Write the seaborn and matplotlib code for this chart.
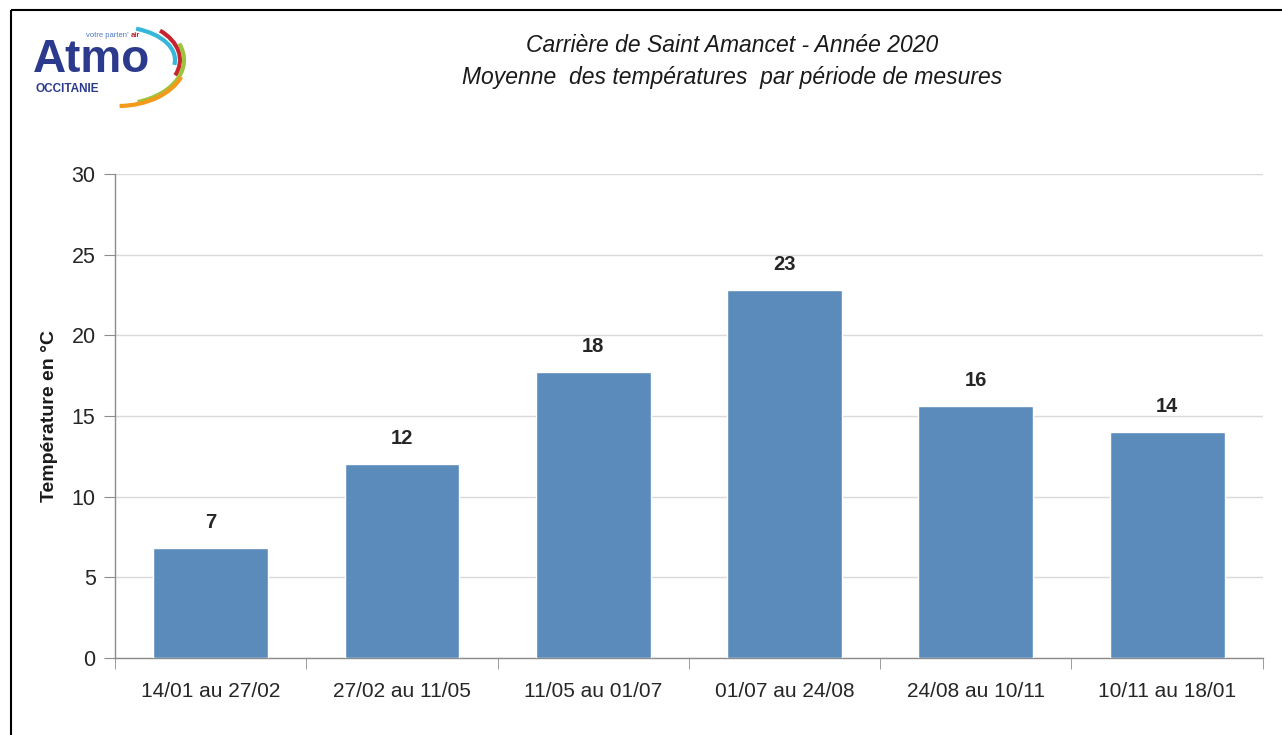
import numpy as np
import pandas as pd
import matplotlib
matplotlib.use("Agg")
import matplotlib.pyplot as plt
import seaborn as sns
from matplotlib.patches import Arc, Rectangle
from matplotlib.ticker import FixedLocator

# ==========================================
# DATA
# ==========================================
periodes = ['14/01 au 27/02', '27/02 au 11/05', '11/05 au 01/07',
            '01/07 au 24/08', '24/08 au 10/11', '10/11 au 18/01']
temperatures = [6.8, 12.0, 17.7, 22.8, 15.6, 14.0]
etiquettes = ['7', '12', '18', '23', '16', '14']

titre = "Carrière de Saint Amancet - Année 2020\nMoyenne  des températures  par période de mesures"
ylabel = "Température en °C"

# ==========================================
# PLOT
# ==========================================
sns.set_style("white")
plt.rcParams['font.family'] = ['Liberation Sans', 'DejaVu Sans']

df = pd.DataFrame({'Periode': periodes, 'Temperature': temperatures})

fig = plt.figure(figsize=(12.82, 7.35), dpi=100)
fig.patch.set_facecolor('white')

# pixel overlay for frame and logo (y pointing down)
bg = fig.add_axes([0, 0, 1, 1], zorder=0)
bg.set_xlim(0, 1282)
bg.set_ylim(735, 0)
bg.axis('off')
bg.add_patch(Rectangle((11, 10), 1300, 760, fill=False, edgecolor='black', linewidth=1.5))

# logo
bg.text(33, 72, "Atmo", fontsize=33, fontweight='bold', color='#2b3a8c', ha='left', va='baseline')
bg.text(35, 92, "OCCITANIE", fontsize=8.5, fontweight='bold', color='#2b3a8c', ha='left', va='baseline')
bg.text(86, 37, "votre parten’", fontsize=5.5, color='#4a78c0', ha='left', va='baseline')
bg.text(131, 37, "air", fontsize=5.5, fontweight='bold', color='#c0262d', ha='left', va='baseline')
arcs = [
    # cx, cy, width, height, theta1, theta2, colour
    (118, 60, 114, 66, -60, 5, '#36b7d8'),
    (118, 60, 124, 80, -35, 15, '#c8242f'),
    (118, 60, 132, 88, -15, 65, '#9cc43c'),
    (118, 60, 136, 92, 15, 88, '#f39a1c'),
]
for cx, cy, w, h, a0, a1, col in arcs:
    bg.add_patch(Arc((cx, cy), w, h, theta1=a0, theta2=a1, color=col, linewidth=3))

# title
fig.text(0.571, 0.916, titre, ha='center', va='center', fontsize=16.5,
         style='italic', linespacing=1.5, color='#1a1a1a')

ax = fig.add_axes([0.0897, 0.1048, 0.8953, 0.6585], zorder=1)
ax.patch.set_alpha(0)

sns.barplot(data=df, x='Periode', y='Temperature', color='#5a8bba',
            width=0.6, saturation=1, ax=ax, zorder=3)

for i, (v, lab) in enumerate(zip(temperatures, etiquettes)):
    ax.text(i, v + 1.0, lab, ha='center', va='bottom', fontsize=14.5,
            fontweight='bold', color='#262626')

ax.set_ylim(0, 30)
ax.set_xlim(-0.5, len(periodes) - 0.5)
ax.set_yticks(range(0, 31, 5))
ax.grid(axis='y', color='#d9d9d9', linewidth=1, zorder=0)
ax.set_axisbelow(True)

for s in ['top', 'right']:
    ax.spines[s].set_visible(False)
for s in ['left', 'bottom']:
    ax.spines[s].set_color('#8c8c8c')
    ax.spines[s].set_linewidth(1)

ax.tick_params(axis='y', length=8, color='#8c8c8c', labelsize=15.5, labelcolor='#262626', pad=6, left=True)
ax.tick_params(axis='x', which='major', length=0, labelsize=15, labelcolor='#262626', pad=17)
ax.xaxis.set_minor_locator(FixedLocator(np.arange(-0.5, len(periodes), 1)))
ax.tick_params(axis='x', which='minor', length=8, color='#8c8c8c', bottom=True)

ax.set_xlabel('')
ax.set_ylabel(ylabel, fontsize=14, fontweight='bold', color='#1a1a1a', labelpad=10)

plt.savefig("out.png", dpi=100)
plt.close()
